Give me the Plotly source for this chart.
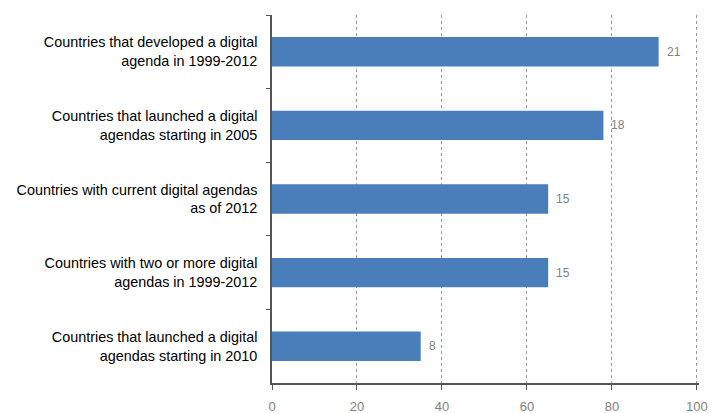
import plotly.graph_objects as go

categories = [
    "Countries that developed a digital<br>agenda in 1999-2012",
    "Countries that launched a digital<br>agendas starting in 2005",
    "Countries with current digital agendas<br>as of 2012",
    "Countries with two or more digital<br>agendas in 1999-2012",
    "Countries that launched a digital<br>agendas starting in 2010",
]
percent_values = [91, 78, 65, 65, 35]
count_labels = ["21", "18", "15", "15", "8"]
x_ticks = [0, 20, 40, 60, 80, 100]

fig = go.Figure()
fig.add_trace(go.Bar(
    x=percent_values,
    y=categories,
    orientation="h",
    marker=dict(color="#4a7ebb", line=dict(color="#4a7ebb", width=0)),
    width=0.4,
    showlegend=False,
))

for v, c, t in zip(percent_values, categories, count_labels):
    fig.add_annotation(
        x=v, y=c, text=t, showarrow=False, xanchor="left", xshift=6,
        font=dict(family="Liberation Sans, Arial", size=12, color="#808080"),
    )

fig.update_layout(
    width=711, height=413,
    margin=dict(l=272, r=12, t=15, b=30, autoexpand=False),
    paper_bgcolor="white", plot_bgcolor="white",
    font=dict(family="Liberation Sans, Arial", size=14, color="#000000"),
    xaxis=dict(
        range=[0, 100.5], tickvals=x_ticks,
        showgrid=True, gridcolor="#999999", griddash="3px,3px", gridwidth=1,
        showline=True, linecolor="#555555", linewidth=1.5,
        ticks="outside", ticklen=5, tickcolor="#555555",
        tickfont=dict(size=13, color="#808080"),
        ticklabelstandoff=6,
        zeroline=False, automargin=False,
    ),
    yaxis=dict(
        categoryorder="array", categoryarray=categories,
        autorange="reversed",
        showline=True, linecolor="#555555", linewidth=1.5,
        ticks="outside", ticklen=4, tickcolor="#555555",
        tickson="boundaries",
        tickfont=dict(size=14.4, color="#000000"),
        ticklabelstandoff=10,
        showgrid=False, automargin=False,
    ),
)

fig.write_html("out.html")
